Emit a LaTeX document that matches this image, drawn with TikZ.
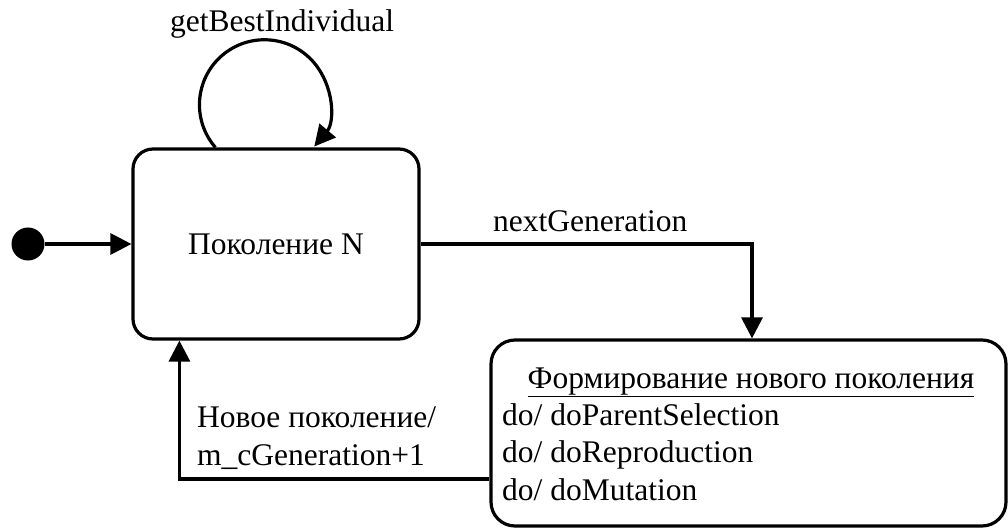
\documentclass[tikz,border=0pt]{standalone}
\usepackage{fontspec}
\setmainfont{Liberation Serif}
\usetikzlibrary{arrows.meta}
\begin{document}
\begin{tikzpicture}[x=1pt,y=1pt,
  font=\fontsize{31.5}{37.5}\selectfont,
  state/.style={draw, line width=3.2pt, rounded corners=20pt, inner sep=0pt},
  conn/.style={line width=3.2pt, -{Triangle[length=21pt,width=21pt]}},
  txt/.style={inner sep=0pt}]
\useasboundingbox (0,0) rectangle (1008,528);
\node[circle, fill, minimum size=33pt, inner sep=0pt] (init) at (28,284) {};
\node[state, minimum width=286pt, minimum height=190pt] (gen) at (276,284) {};
\node[txt, anchor=base] (genlabel) at (276,273) {Поколение N};
\node[state, rounded corners=24pt, minimum width=515pt, minimum height=186pt] (form) at (748.5,95) {};
\node[txt, anchor=base] (formtitle) at (751,140) {\underline{Формирование нового поколения}};
\node[txt, anchor=base west] (do1) at (502,103) {do/ doParentSelection};
\node[txt, anchor=base west] (do2) at (502,66) {do/ doReproduction};
\node[txt, anchor=base west] (do3) at (502,28) {do/ doMutation};
% connectors
\draw[conn] (init) -- (gen.west);
\draw[conn] ([xshift=84pt]gen.north west) arc[start angle=221, end angle=-40, radius=65pt];
\node[txt, anchor=base] (looplabel) at (282,496) {getBestIndividual};
\draw[conn] (gen.east) -| ([xshift=3.5pt]form.north);
\node[txt, anchor=base west] (nextlabel) at (493,296) {nextGeneration};
\coordinate (ret) at ([yshift=-46pt]form.west);
\draw[conn] (ret) -| ([xshift=48pt]gen.south west);
\node[txt, anchor=base west] (retlabel1) at (197,101) {Новое поколение/};
\node[txt, anchor=base west] (retlabel2) at (197,63) {m\_cGeneration+1};
\end{tikzpicture}
\end{document}
